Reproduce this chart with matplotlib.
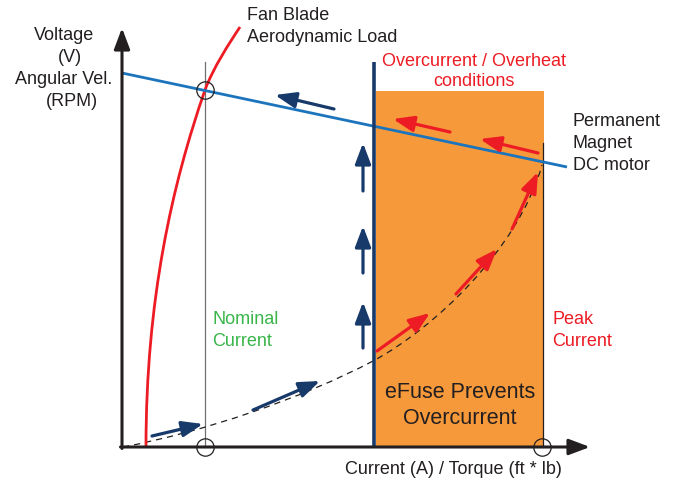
import matplotlib
matplotlib.use("Agg")
import matplotlib.pyplot as plt
from matplotlib.patches import Rectangle, PathPatch
from matplotlib.path import Path

plt.rcParams['font.family'] = ['Liberation Sans', 'DejaVu Sans']

# ---- data (diagram coordinates, pixel-like units, y downward) ----
axis_origin = (122, 447)
y_axis_top = 28
x_axis_end = 590

motor_line_x = [122, 567]
motor_line_y = [73, 167]

# fan load curve: two cubic Bezier segments (start, ctrl, ctrl, end, ctrl, ctrl, end)
fan_curve_x = [146, 146, 172, 205, 213, 230, 240]
fan_curve_y = [447, 300, 185, 90, 68, 42, 27]

# operating (load) curve: two cubic Bezier segments
load_curve_x = [123, 203, 303, 373, 433, 518, 542]
load_curve_y = [447, 432, 398, 361, 329, 250, 165]

nominal_x = 205
nominal_top = 62
efuse_x = 374
efuse_top = 62
peak_x = 543
peak_top = 143
overcurrent_box = (376, 91, 544, 447)  # x0, y0, x1, y1

circle_x = [205, 205, 542]
circle_y = [90, 447, 447]

navy_arrow_tail_x = [152, 253, 363, 363, 363, 334]
navy_arrow_tail_y = [436, 410, 348, 273, 191, 109]
navy_arrow_tip_x = [203, 320, 363, 363, 363, 275]
navy_arrow_tip_y = [424, 381, 302, 226, 143, 95]

red_arrow_tail_x = [377, 456, 512, 538, 450]
red_arrow_tail_y = [351, 294, 229, 153, 132]
red_arrow_tip_x = [430, 497, 538, 480, 393]
red_arrow_tip_y = [313, 249, 172, 139, 119]

# ---- colors ----
NAVY = '#173a6a'
BLUE = '#1c75bc'
RED = '#ed1c24'
ORANGE = '#f6993a'
GREEN = '#39b54a'
TXT = '#231f20'

fig = plt.figure(figsize=(6.79, 4.82), dpi=100)
ax = fig.add_axes([0, 0, 1, 1])
ax.set_xlim(0, 679)
ax.set_ylim(482, 0)
ax.axis('off')


def bezier_path(xs, ys):
    codes = [Path.MOVETO] + [Path.CURVE4] * (len(xs) - 1)
    return Path(list(zip(xs, ys)), codes)


# orange region
x0, y0, x1, y1 = overcurrent_box
ax.add_patch(Rectangle((x0, y0), x1 - x0, y1 - y0, facecolor=ORANGE, edgecolor='none', zorder=1))

# nominal line
ax.plot([nominal_x, nominal_x], [nominal_top, axis_origin[1]], color='#707070', lw=0.9, zorder=2)
# peak line
ax.plot([peak_x, peak_x], [peak_top, axis_origin[1]], color=TXT, lw=0.9, zorder=2)

# load curve (dashed)
ax.add_patch(PathPatch(bezier_path(load_curve_x, load_curve_y), facecolor='none',
                       edgecolor=TXT, lw=0.9, ls=(0, (5, 4)), zorder=3))

# fan curve
ax.add_patch(PathPatch(bezier_path(fan_curve_x, fan_curve_y), facecolor='none',
                       edgecolor=RED, lw=2.0, zorder=4, capstyle='butt'))

# motor line
ax.plot(motor_line_x, motor_line_y, color=BLUE, lw=2.0, zorder=4, solid_capstyle='butt')

# efuse line
ax.plot([efuse_x, efuse_x], [efuse_top, axis_origin[1]], color=NAVY, lw=2.6, zorder=5, solid_capstyle='butt')

# axes
axis_style = dict(arrowstyle='-|>,head_length=0.85,head_width=0.32', lw=2.2, color=TXT,
                  shrinkA=0, shrinkB=0, mutation_scale=15)
ax.annotate('', xy=(axis_origin[0], y_axis_top), xytext=(axis_origin[0], axis_origin[1] + 1.5),
            arrowprops=axis_style, zorder=6)
ax.annotate('', xy=(x_axis_end, axis_origin[1]), xytext=(axis_origin[0] - 1.5, axis_origin[1]),
            arrowprops=axis_style, zorder=6)

# circles
ax.plot(circle_x, circle_y, ls='none', marker='o', ms=12.5, mfc='none', mec=TXT, mew=0.9, zorder=7)

# arrows
arrow_head = '-|>,head_length=0.9,head_width=0.34'
for tx, ty, hx, hy in zip(navy_arrow_tail_x, navy_arrow_tail_y, navy_arrow_tip_x, navy_arrow_tip_y):
    ax.annotate('', xy=(hx, hy), xytext=(tx, ty),
                arrowprops=dict(arrowstyle=arrow_head, lw=2.3, color=NAVY,
                                shrinkA=0, shrinkB=0, mutation_scale=14), zorder=8)
for tx, ty, hx, hy in zip(red_arrow_tail_x, red_arrow_tail_y, red_arrow_tip_x, red_arrow_tip_y):
    ax.annotate('', xy=(hx, hy), xytext=(tx, ty),
                arrowprops=dict(arrowstyle=arrow_head, lw=2.3, color=RED,
                                shrinkA=0, shrinkB=0, mutation_scale=14), zorder=8)

# texts
fs = 13
ax.text(64, 35, 'Voltage', ha='center', va='center', fontsize=fs, color=TXT)
ax.text(70, 58, '(V)', ha='center', va='center', fontsize=fs, color=TXT)
ax.text(64, 79, 'Angular Vel.', ha='center', va='center', fontsize=fs, color=TXT)
ax.text(72, 101, '(RPM)', ha='center', va='center', fontsize=fs, color=TXT)

ax.text(247, 15, 'Fan Blade', ha='left', va='center', fontsize=fs, color=TXT)
ax.text(247, 37, 'Aerodynamic Load', ha='left', va='center', fontsize=fs, color=TXT)

ax.text(474, 61, 'Overcurrent / Overheat', ha='center', va='center', fontsize=fs, color=RED)
ax.text(474, 81, 'conditions', ha='center', va='center', fontsize=fs, color=RED)

ax.text(573, 122, 'Permanent', ha='left', va='center', fontsize=fs, color=TXT)
ax.text(573, 144, 'Magnet', ha='left', va='center', fontsize=fs, color=TXT)
ax.text(573, 165, 'DC motor', ha='left', va='center', fontsize=fs, color=TXT)

ax.text(212, 320, 'Nominal', ha='left', va='center', fontsize=fs, color=GREEN)
ax.text(212, 342, 'Current', ha='left', va='center', fontsize=fs, color=GREEN)

ax.text(552, 320, 'Peak', ha='left', va='center', fontsize=fs, color=RED)
ax.text(552, 342, 'Current', ha='left', va='center', fontsize=fs, color=RED)

ax.text(460, 392, 'eFuse Prevents', ha='center', va='center', fontsize=15.5, color=TXT)
ax.text(460, 418, 'Overcurrent', ha='center', va='center', fontsize=15.5, color=TXT)

ax.text(453, 470, 'Current (A) / Torque (ft * lb)', ha='center', va='center', fontsize=fs, color=TXT)

fig.savefig('out.png', dpi=100)
